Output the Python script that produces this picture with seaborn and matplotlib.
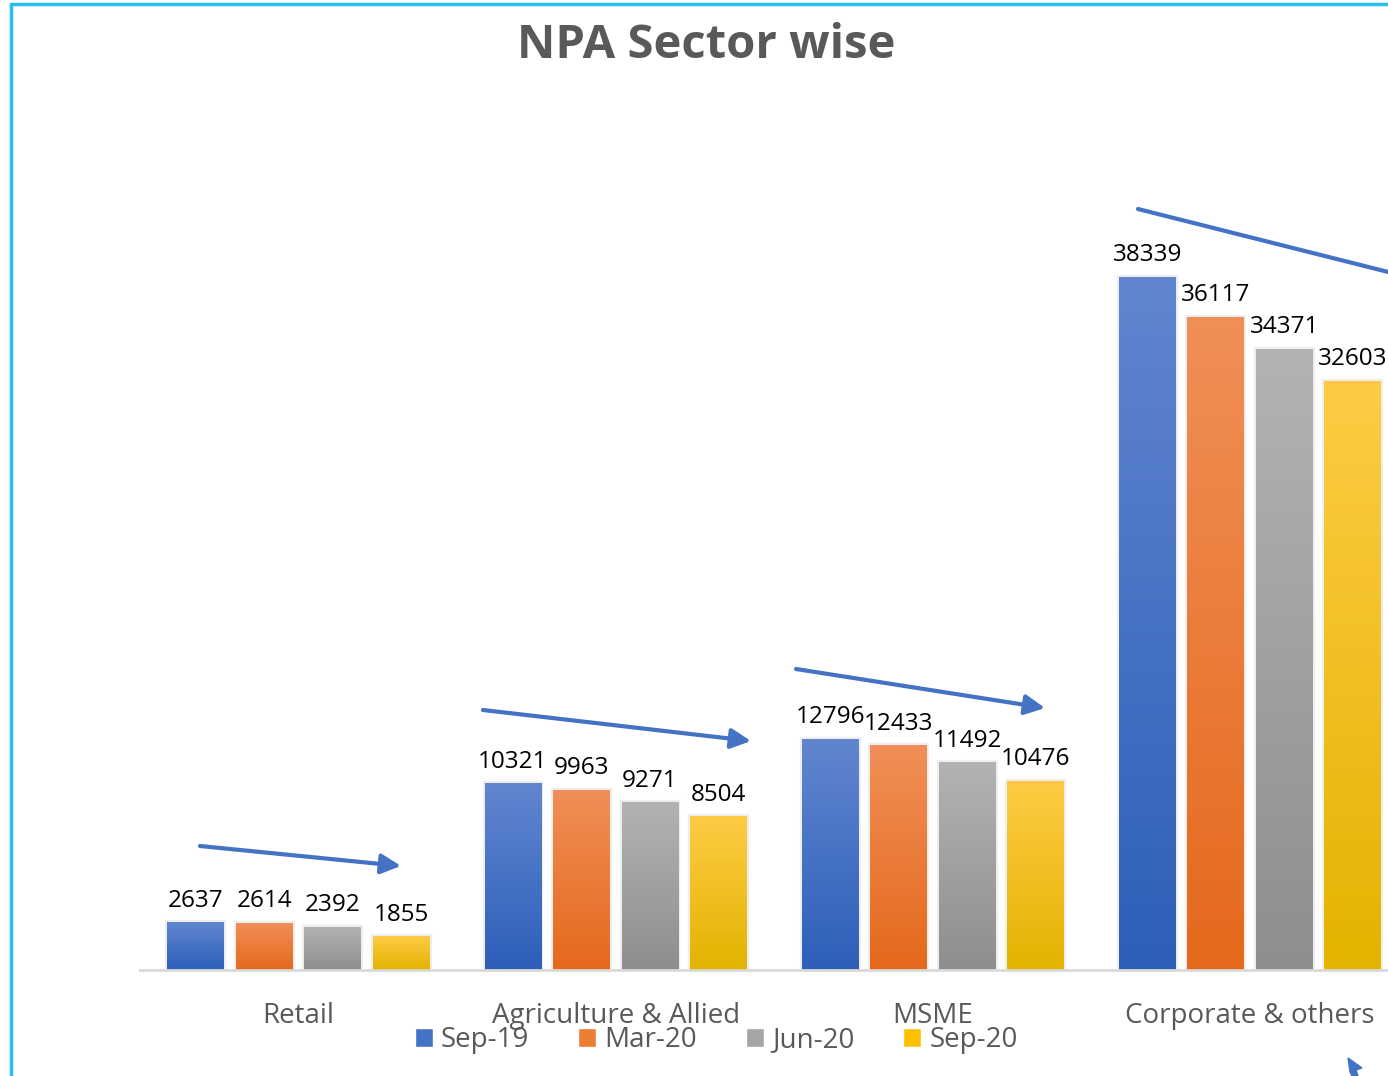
import numpy as np
import pandas as pd
import seaborn as sns
import matplotlib.pyplot as plt
from matplotlib.colors import LinearSegmentedColormap
from matplotlib.lines import Line2D
from matplotlib.patches import FancyArrowPatch, Rectangle, Polygon

sectors = ['Retail', 'Agriculture & Allied', 'MSME', 'Corporate & others']
periods = ['Sep-19', 'Mar-20', 'Jun-20', 'Sep-20']
sep19 = [2637, 10321, 12796, 38339]
mar20 = [2614, 9963, 12433, 36117]
jun20 = [2392, 9271, 11492, 34371]
sep20 = [1855, 8504, 10476, 32603]

# gradient colours per period (top, bottom)
tops = ['#6186cf', '#f18f58', '#b3b3b3', '#ffcb45']
bottoms = ['#2d5fb9', '#e4691b', '#8e8e8e', '#e3b300']
mids = ['#4472c4', '#ed7d31', '#a5a5a5', '#ffc000']

df = pd.DataFrame({
    'sector': sectors * 4,
    'period': [p for p in periods for _ in sectors],
    'value': sep19 + mar20 + jun20 + sep20,
})

sns.set_style('white')
plt.rcParams['font.family'] = ['Open Sans', 'DejaVu Sans']

fig = plt.figure(figsize=(13.88, 10.76), dpi=100)
ax = fig.add_axes([140 / 1388, 1 - 970 / 1076, 1248 / 1388, 770 / 1076])

sns.barplot(data=df, x='sector', y='value', hue='period', order=sectors,
            hue_order=periods, palette=mids, width=0.864, gap=0.17,
            legend=False, ax=ax, zorder=2)

# gradient fill inside each bar
for i, cont in enumerate(ax.containers):
    cmap = LinearSegmentedColormap.from_list('g%d' % i, [bottoms[i], tops[i]])
    grad = np.linspace(0, 1, 256).reshape(-1, 1)
    for bar in cont:
        x0, w, h = bar.get_x(), bar.get_width(), bar.get_height()
        bar.set_facecolor('none')
        bar.set_edgecolor('none')
        im = ax.imshow(grad, cmap=cmap, origin='lower', aspect='auto',
                       extent=[x0, x0 + w, 0, h], zorder=2)
        im.set_clip_path(bar)
        # soft shadow around bar
        ax.add_patch(Rectangle((x0, 0), w, h, facecolor='none',
                               edgecolor='#d0d0d0', lw=3, alpha=0.35, zorder=1.9))
    ax.bar_label(cont, fmt='%d', padding=7, fontsize=17.5, color='black')

ax.set_xlim(-0.5, 3.435)
ax.set_ylim(0, 42600)

ax.set_xlabel('')
ax.set_ylabel('')
ax.set_yticks([])
ax.tick_params(axis='x', length=0, labelsize=20, labelcolor='#595959', pad=23)
for s in ['top', 'left', 'right']:
    ax.spines[s].set_visible(False)
ax.spines['bottom'].set_color('#d9d9d9')
ax.spines['bottom'].set_linewidth(2)

# legend
handles = [Rectangle((0, 0), 1, 1, facecolor=c) for c in mids]
fig.legend(handles, periods, loc='center', bbox_to_anchor=(0.516, 1 - 1040 / 1076),
           ncol=4, frameon=False, fontsize=20, labelcolor='#595959',
           handlelength=0.65, handleheight=0.65, handletextpad=0.3, columnspacing=1.75,
           borderpad=0)

fig.text(706 / 1388, 1 - 46 / 1076, 'NPA Sector wise', ha='center', va='center',
         fontsize=34, fontweight='bold', color='#595959')

# trend arrows (pixel positions of annotation shapes)
arrows = [((200, 846), (401, 866)), ((483, 710), (751, 741)),
          ((796, 669), (1045, 708)), ((1138, 209), (1420, 280))]
for (x1, y1), (x2, y2) in arrows:
    fig.patches.append(FancyArrowPatch((x1 / 1388, 1 - y1 / 1076), (x2 / 1388, 1 - y2 / 1076),
                                       transform=fig.transFigure, arrowstyle='-|>',
                                       mutation_scale=30, lw=3, color='#4472c4',
                                       shrinkA=0, shrinkB=0))

# cursor mark
cur = np.array([(1348, 1058), (1362, 1068), (1356, 1070), (1358, 1076), (1352, 1076), (1350, 1072)])
fig.patches.append(Polygon(np.column_stack([cur[:, 0] / 1388, 1 - cur[:, 1] / 1076]),
                           closed=True, transform=fig.transFigure, color='#4472c4'))

# frame lines
fig.add_artist(Line2D([11 / 1388, 11 / 1388], [0, 1 - 4 / 1076], color='#29bde9', lw=2.5))
fig.add_artist(Line2D([11 / 1388, 1], [1 - 4 / 1076, 1 - 4 / 1076], color='#29bde9', lw=2.5))

fig.savefig('out.png', dpi=100)
